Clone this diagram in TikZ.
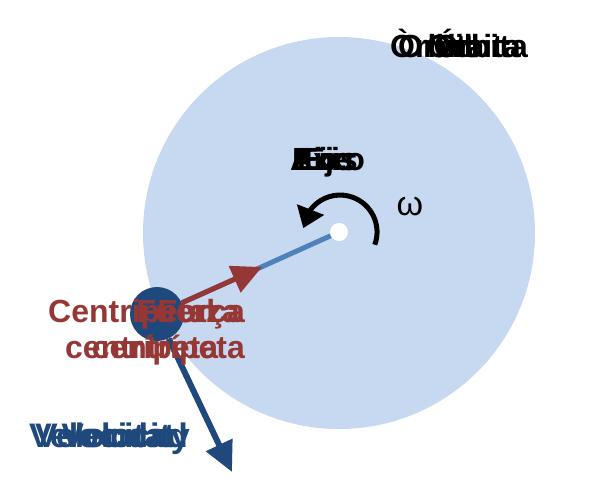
\documentclass[tikz,border=0pt]{standalone}
\usepackage{fontspec}
\setmainfont{Liberation Sans}
\usetikzlibrary{arrows.meta,bending,positioning}

\definecolor{orbitblue}{HTML}{C6D9F1}
\definecolor{planetblue}{HTML}{1F497D}
\definecolor{radiusblue}{HTML}{4F81BD}
\definecolor{forcered}{HTML}{953735}

\tikzset{
	lbl/.style={inner sep=0pt, font=\fontsize{32}{38}\selectfont\bfseries},
	forcelbl/.style={lbl, text=forcered, font=\fontsize{32}{38}\selectfont\bfseries},
	speedlbl/.style={lbl, text=planetblue, font=\fontsize{34}{38}\selectfont\bfseries},
	vector/.style={line width=6pt, -{Triangle[length=30pt,width=28pt]}}
}

\begin{document}
\begin{tikzpicture}[x=1pt,y=-1pt]
			\useasboundingbox (0,0) rectangle (596,500);
			\fill[orbitblue] (339,233) circle (196);

			\node[circle, fill=white, inner sep=0pt, minimum size=18pt] (centre) at (339,232) {};
			\node[circle, fill=planetblue, inner sep=0pt, minimum size=54pt] (planet) at (157,314) {};
			\coordinate (forcetip) at (262,267);
			\coordinate (speedtip) at (232,472);

			\draw[radiusblue, line width=5pt] (centre) -- (planet);
			\draw[vector, forcered, line width=5pt] (planet) -- (forcetip);
			\draw[vector, planetblue] (planet) -- (speedtip);
			\draw[line width=5pt, -{Triangle[length=20pt,width=28pt]}] (374.8,244.7) arc[start angle=20, end angle=-174, radius=37];

			% labels
			\node[lbl, anchor=base west] (orbit1) at (390,58) {Òrbita};
			\node[lbl, anchor=base west] (orbit2) at (398,58) {Orbit};
			\node[lbl, anchor=base east] (orbit3) at (528,58) {Órbita};
			\node[lbl, anchor=base east] (orbit4) at (521,58) {Orbita};

			\node[lbl, anchor=base west] (axis1) at (290,170) {Axis};
			\node[lbl, anchor=base west] (axis2) at (292,170) {Eix};
			\node[lbl, anchor=base east] (axis3) at (365,170) {Eixo};
			\node[lbl, anchor=base east] (axis4) at (352,170) {Eje};

			\node[lbl, anchor=base, font=\fontsize{34}{38}\selectfont] (omega) at (410,215) {ω};

			\node[forcelbl, anchor=base west] (force1) at (48,322) {Centripetal};
			\node[forcelbl, anchor=base east] (force2) at (245,322) {Força};
			\node[forcelbl, anchor=base east] (force3) at (240,322) {Fuerza};
			\node[forcelbl, anchor=base west] (force4) at (65,358) {centrípeta};
			\node[forcelbl, anchor=base east] (force5) at (245,358) {centrípeta};

			\node[speedlbl, anchor=base west] (speed1) at (35,447) {Velocitat};
			\node[speedlbl, anchor=base east] (speed2) at (190,447) {Velocity};
			\node[speedlbl, anchor=base east] (speed3) at (188,447) {Velocidad};
\end{tikzpicture}
\end{document}
